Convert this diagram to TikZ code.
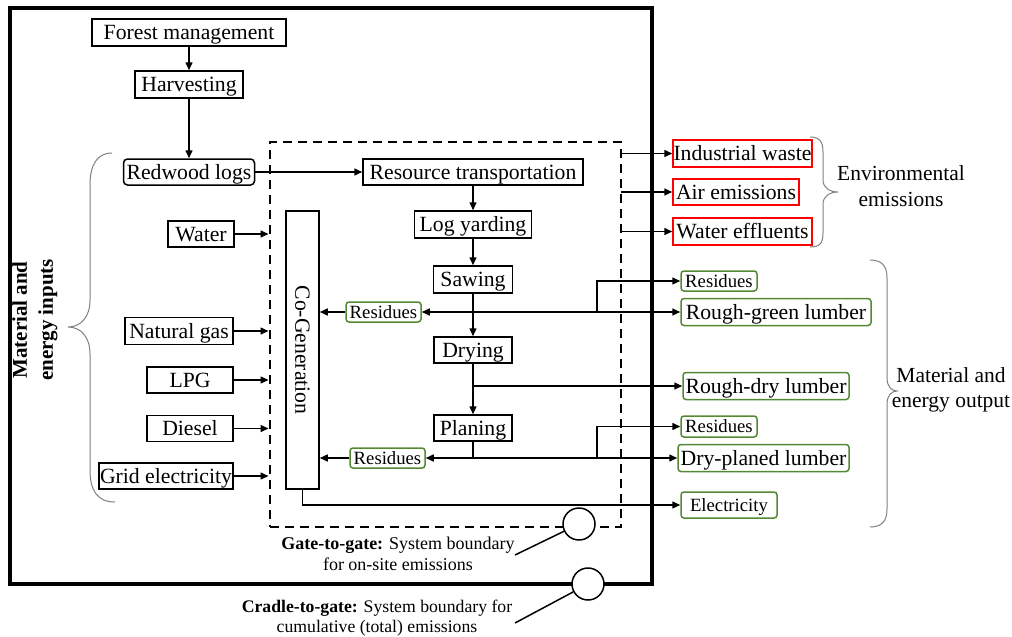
\documentclass[tikz,border=0pt]{standalone}
\usepackage{fontspec}
\setmainfont{Liberation Serif}
\usetikzlibrary{arrows.meta}
\definecolor{grn}{RGB}{84,136,53}
\definecolor{brc}{RGB}{128,128,128}
\begin{document}
\begin{tikzpicture}[x=1pt,y=-1pt,
  mainf/.style={font=\fontsize{21.7}{25}\selectfont, text height=14.3pt, text depth=0pt},
  smallf/.style={font=\fontsize{18.7}{21}\selectfont, text height=12.3pt, text depth=0pt},
  box/.style={draw, line width=1.5pt, inner sep=0pt, mainf},
  redbox/.style={draw=red, line width=1.5pt, inner sep=0pt, mainf},
  grnbox/.style={draw=grn, line width=1.5pt, rounded corners=3pt, inner sep=0pt, mainf},
  grnsmall/.style={grnbox, smallf},
  tip/.tip={Triangle[length=8pt,width=7pt]},
  arr/.style={line width=1.5pt, -tip},
  arrtwo/.style={line width=1.5pt, tip-tip},
  conn/.style={line width=1.5pt},
  bracepath/.style={draw=brc, line width=1pt},
  framebox/.style={draw, line width=3.5pt, inner sep=0pt},
  gatebox/.style={draw, line width=2pt, dash pattern=on 9pt off 6pt, inner sep=0pt},
  marker/.style={circle, draw, fill=white, line width=1.5pt, minimum size=32pt, inner sep=0pt}
]
\useasboundingbox (0,0) rectangle (1012,637);

% boundaries
\node[framebox, minimum width=642pt, minimum height=576pt] (c2g) at (331,296) {};
\node[gatebox, minimum width=351pt, minimum height=385pt] (g2g) at (445.5,334.5) {};

% chain
\node[box, minimum width=194pt, minimum height=27pt] (fm) at (189,32.5) {Forest management};
\node[box, minimum width=108pt, minimum height=27pt] (harv) at (189,84.5) {Harvesting};
\node[box, rounded corners=4pt, minimum width=131pt, minimum height=26pt] (logs) at (189,172) {Redwood logs};
\node[box, minimum width=220pt, minimum height=26pt] (rt) at (473,172) {Resource transportation};
\node[box, minimum width=117pt, minimum height=27pt] (ly) at (473,224.5) {Log yarding};
\node[box, minimum width=79pt, minimum height=27pt] (saw) at (473,279.5) {Sawing};
\node[box, minimum width=78pt, minimum height=26pt] (dry) at (473,350) {Drying};
\node[box, minimum width=78pt, minimum height=26pt] (plan) at (473,428) {Planing};
\node[box, minimum width=33pt, minimum height=278pt] (cogen) at (302.5,350) {};
\node[font=\fontsize{21.7}{25}\selectfont, rotate=-90] (cogentext) at (cogen.center) {Co-Generation};

\node[grnsmall, minimum width=75pt, minimum height=20pt] (res1) at (383.5,312) {Residues};
\node[grnsmall, minimum width=75pt, minimum height=20pt] (res2) at (387.5,458) {Residues};

% inputs
\node[box, minimum width=66pt, minimum height=26pt] (water) at (201,234) {Water};
\node[box, minimum width=108pt, minimum height=27pt] (ng) at (179,331) {Natural gas};
\node[box, minimum width=86pt, minimum height=26pt] (lpg) at (190,380) {LPG};
\node[box, minimum width=86pt, minimum height=26pt] (diesel) at (190,428.5) {Diesel};
\node[box, minimum width=134pt, minimum height=26pt] (grid) at (166,476) {Grid electricity};

% emissions
\node[redbox, minimum width=139pt, minimum height=27pt] (iw) at (742.5,153.5) {Industrial waste};
\node[redbox, minimum width=126pt, minimum height=26pt] (air) at (736,192) {Air emissions};
\node[redbox, minimum width=139pt, minimum height=27pt] (we) at (742.5,231.5) {Water effluents};

% outputs
\node[grnsmall, minimum width=76pt, minimum height=20pt] (res3) at (719,281) {Residues};
\node[grnbox, minimum width=190pt, minimum height=27pt] (rgl) at (776,312) {Rough-green lumber};
\node[grnbox, minimum width=166pt, minimum height=27pt] (rdl) at (766,386) {Rough-dry lumber};
\node[grnsmall, minimum width=76pt, minimum height=21pt] (res4) at (719,426.5) {Residues};
\node[grnbox, minimum width=171pt, minimum height=27pt] (dpl) at (763.5,458) {Dry-planed lumber};
\node[grnsmall, minimum width=96pt, minimum height=26pt] (elec) at (729,505) {Electricity};

% connectors
\draw[arr] (fm) -- (harv);
\draw[arr] (harv) -- (logs);
\draw[arr] (logs) -- (rt);
\draw[arr] (rt) -- (ly);
\draw[arr] (ly) -- (saw);
\draw[arr] (saw) -- (dry);
\draw[arr] (dry) -- (plan);

\draw[arrtwo] (res1.east) -- (rgl.west);
\coordinate (b1) at (597,312);
\draw[arr] (b1) |- (res3.west);
\draw[arr] (res1.west) -- (res1.west -| cogen.east);

\draw[arr] (dry.south |- rdl.west) -- (rdl.west);

\draw[conn] (plan.south) -- (plan.south |- res2.east);
\draw[arrtwo] (res2.east) -- (dpl.west);
\coordinate (b2) at (597,458);
\draw[arr] (b2) |- (res4.west);
\draw[arr] (res2.west) -- (res2.west -| cogen.east);

\draw[arr] (cogen.south) -- (cogen.south |- elec.west) -- (elec.west);

\coordinate (dl) at (268.5,350);
\foreach \n in {water,ng,lpg,diesel,grid}
  \draw[arr] (\n.east) -- (\n.east -| dl);

\coordinate (dr) at (621,190);
\foreach \n in {iw,air,we}
  \draw[arr] (\n.west -| dr) -- (\n.west);

% braces
\draw[bracepath] (112,153) .. controls (97,153) and (90,165) .. (90,185) -- (90,300)
  .. controls (90,318) and (80,327) .. (68,327) .. controls (80,327) and (90,336) .. (90,354)
  -- (90,470) .. controls (90,490) and (97,502) .. (115,502);
\draw[bracepath] (810,137) .. controls (820,137) and (823,142) .. (823,152) -- (823,180)
  .. controls (823,188) and (830,192) .. (838,192) .. controls (830,192) and (823,196) .. (823,204)
  -- (823,233) .. controls (823,243) and (820,247) .. (810,247);
\draw[bracepath] (870,260) .. controls (882,260) and (887,266) .. (887,278) -- (887,378)
  .. controls (887,387) and (892,391) .. (897,391) .. controls (892,391) and (887,395) .. (887,404)
  -- (887,509) .. controls (887,521) and (882,527) .. (870,527);

% labels
\node[font=\fontsize{21}{26}\selectfont\bfseries, align=center, rotate=90] (inlab) at (35,320) {Material and\\energy inputs};
\node[font=\fontsize{21.5}{26}\selectfont, align=center] (envlab) at (901,186) {Environmental\\emissions};
\node[font=\fontsize{21.5}{25}\selectfont, align=center] (outlab) at (951,390) {Material and\\energy output};

% markers
\node[marker] (c1) at (579,524) {};
\node[marker] (c2) at (588,584) {};
\node[font=\fontsize{18}{21}\selectfont, align=center] (t1) at (398,554) {\textbf{Gate-to-gate:} System boundary\\for on-site emissions};
\node[font=\fontsize{17.7}{20.5}\selectfont, align=center] (t2) at (377,618) {\textbf{Cradle-to-gate:} System boundary for\\cumulative (total) emissions};
\coordinate (l1) at (515,555);
\coordinate (l2) at (515,623);
\draw[conn] (l1) -- (c1);
\draw[conn] (l2) -- (c2);
\end{tikzpicture}
\end{document}
